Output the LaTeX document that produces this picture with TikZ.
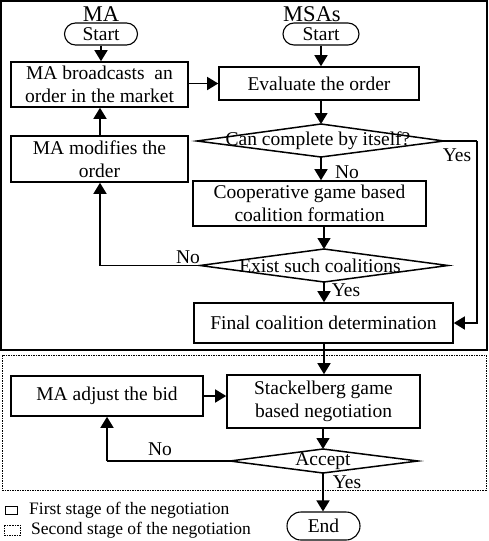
\documentclass[tikz,border=0pt]{standalone}
\usepackage{fontspec}
\setmainfont{Liberation Serif}
\usetikzlibrary{arrows.meta}
\begin{document}
\begin{tikzpicture}[x=1pt,y=-1pt,
  box/.style={draw, line width=1.6pt, inner sep=0pt, align=center, font=\fontsize{19.5}{23}\selectfont},
  term/.style={draw, line width=1.1pt, inner sep=0pt, font=\fontsize{19.5}{23}\selectfont},
  lbl/.style={inner sep=0pt, font=\fontsize{19.5}{23}\selectfont},
  head/.style={inner sep=0pt, font=\fontsize{22.5}{24}\selectfont},
  leg/.style={inner sep=0pt, anchor=west, font=\fontsize{17.5}{20}\selectfont},
  arr/.style={line width=1.5pt, -{Triangle[length=11pt,width=13pt]}},
  ln/.style={line width=1.5pt},
  dia/.style={line width=1.5pt, line join=miter}]
\useasboundingbox (0,0) rectangle (488,541);
% frames
\draw[line width=1.4pt] (1,1) rectangle (487,350);
\draw[line width=0.8pt, dash pattern=on 1.5pt off 1pt] (2,355) rectangle (486,490);
% headers
\node[head] (hMA) at (101,14) {MA};
\node[head] (hMS) at (312,14) {MSAs};
% terminals
\node[term, rounded corners=11pt, minimum width=73pt, minimum height=22pt] (startA) at (101,34) {Start};
\node[term, rounded corners=11pt, minimum width=76pt, minimum height=22pt] (startB) at (321,34) {Start};
\node[term, rounded corners=14pt, minimum width=73pt, minimum height=28pt] (endN) at (323.5,526) {End};
% boxes
\node[box, minimum width=177pt, minimum height=45pt] (bcast) at (99.5,84.5) {MA broadcasts\ \ an\\order in the market};
\node[box, minimum width=177pt, minimum height=46pt] (modify) at (99.5,159) {MA modifies the\\order};
\node[box, minimum width=200pt, minimum height=33pt] (eval) at (319,83.5) {Evaluate the order};
\node[box, minimum width=233pt, minimum height=45pt] (coop) at (309.5,203.5) {Cooperative game based\\coalition formation};
\node[box, minimum width=259pt, minimum height=40pt] (final) at (323.5,323) {Final coalition determination};
\node[box, minimum width=193pt, minimum height=53pt] (stack) at (323.5,401.5) {Stackelberg game\\based negotiation};
\node[box, minimum width=192pt, minimum height=40pt] (adjust) at (107,396) {MA adjust the bid};
% diamonds
\coordinate (d1t) at (321,124); \coordinate (d1r) at (444,141);
\coordinate (d1b) at (321,157); \coordinate (d1l) at (197,141);
\draw[dia] (d1t) -- (d1r) -- (d1b) -- (d1l) -- cycle;
\node[lbl] (d1) at (318,141) {Can complete by itself?};
\coordinate (d2t) at (324,249); \coordinate (d2r) at (448,265.5);
\coordinate (d2b) at (324,282); \coordinate (d2l) at (200,265.5);
\draw[dia] (d2t) -- (d2r) -- (d2b) -- (d2l) -- cycle;
\node[lbl] (d2) at (320,265.5) {Exist such coalitions};
\coordinate (d3t) at (323,449); \coordinate (d3r) at (418,461);
\coordinate (d3b) at (323,473); \coordinate (d3l) at (230,461);
\draw[dia] (d3t) -- (d3r) -- (d3b) -- (d3l) -- cycle;
\node[lbl] (d3) at (323,461) {Accept};
% helper coordinates
\coordinate (c1) at (477,141);
\coordinate (c2) at (477,323);
\coordinate (c3) at (100,265.5);
\coordinate (c4) at (107,461);
% connectors
\draw[arr] (startA.south) -- (startA.south |- bcast.north);
\draw[arr] (startB.south) -- (startB.south |- eval.north);
\draw[arr] (bcast.east |- eval.west) -- (eval.west);
\draw[arr] (eval.south -| d1t) -- (d1t);
\draw[arr] (d1b) -- (d1b |- coop.north);
\draw[arr] (d2t |- coop.south) -- (d2t);
\draw[arr] (d2b) -- (d2b |- final.north);
\draw[ln] (d1r) -- (c1);
\draw[arr] (c1) -- (c2) -- (final.east);
\draw[ln] (d2l) -- (c3);
\draw[arr] (c3) -- (c3 |- modify.south);
\draw[arr] (modify.north -| c3) -- (c3 |- bcast.south);
\draw[arr] (final.south -| d2b) -- (d2b |- stack.north);
\draw[arr] (adjust.east) -- (adjust.east -| stack.west);
\draw[arr] (stack.south -| d3t) -- (d3t);
\draw[ln] (d3l) -- (c4);
\draw[arr] (c4) -- (adjust.south);
\draw[arr] (d3b) -- (d3b |- endN.north);
% labels
\node[lbl] (y1) at (457,155) {Yes};
\node[lbl] (n1) at (347,172) {No};
\node[lbl] (n2) at (188,257) {No};
\node[lbl] (y2) at (346,290) {Yes};
\node[lbl] (n3) at (160,449) {No};
\node[lbl] (y3) at (347,482) {Yes};
% legend
\draw[line width=1pt] (5,506) rectangle (17,514);
\node[leg] (l1) at (29,510) {First stage of the negotiation};
\draw[line width=0.8pt, dash pattern=on 1.5pt off 1pt] (4,525) rectangle (20,535);
\node[leg] (l2) at (31,530) {Second stage of the negotiation};
\end{tikzpicture}
\end{document}
